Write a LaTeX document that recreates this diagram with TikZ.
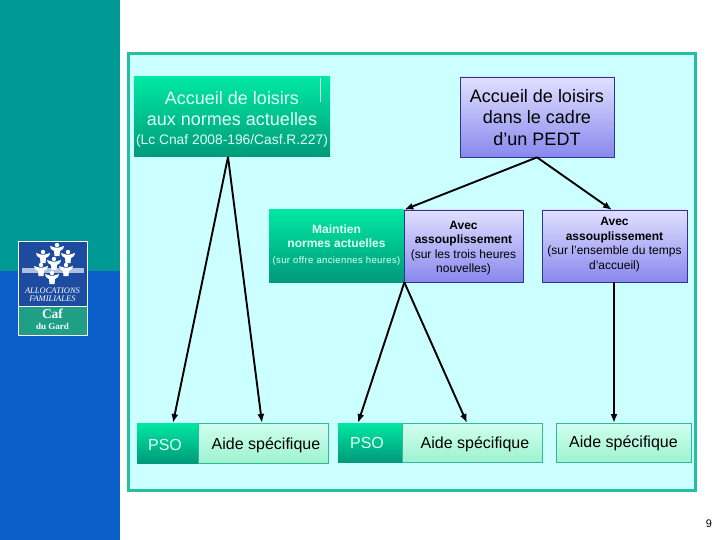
\documentclass[tikz,border=0pt]{standalone}
\usepackage{fontspec}
\setmainfont{Liberation Sans}
\newfontfamily\spaced[LetterSpace=4]{Liberation Sans}
\newfontfamily\serifit{Liberation Serif}
\usetikzlibrary{arrows.meta}
\definecolor{sideteal}{HTML}{009A96}
\definecolor{sideblue}{HTML}{0A5FC8}
\definecolor{framegreen}{HTML}{22BFA0}
\definecolor{framefill}{HTML}{CCFFFF}
\definecolor{logoblue}{HTML}{1C4BA0}
\definecolor{logogreen}{HTML}{1F9F86}
\definecolor{palegreen}{RGB}{225,255,245}
\tikzset{
	box/.style = {rectangle, inner sep = 0pt, align = center, line width = 0.7pt},
	greenbox/.style = {box, draw = none, top color = {rgb,255:red,0;green,232;blue,162}, bottom color = {rgb,255:red,0;green,154;blue,122}},
	bluebox/.style = {box, draw = {rgb,255:red,50;green,50;blue,150}, top color = {rgb,255:red,224;green,224;blue,255}, bottom color = {rgb,255:red,136;green,136;blue,238}},
	aidebox/.style = {box, draw = {rgb,255:red,50;green,185;blue,155}, top color = {rgb,255:red,208;green,255;blue,240}, bottom color = {rgb,255:red,158;green,242;blue,208}},
	link/.style = {-{Latex[length = 9pt, width = 7pt]}, line width = 1.9pt, black},
	words/.style = {align = center, inner sep = 0pt},
	big/.style = {words, font = \fontsize{18}{21.5}\selectfont},
	mid/.style = {words, font = \fontsize{12}{14.5}\selectfont},
	aide/.style = {words, font = \fontsize{16}{18}\selectfont},
}
\begin{document}
\begin{tikzpicture}[x = 1pt, y = -1pt]
	\useasboundingbox (0,0) rectangle (720,540);
	\fill [white] (0,0) rectangle (720,540);

	% bande laterale
	\fill [sideteal] (0,0) rectangle (120,271);
	\fill [sideblue] (0,271) rectangle (120,540);

	% logo
	\fill [logoblue] (18,241) rectangle (87.5,306);
	\fill [logogreen] (18,306) rectangle (87.5,335.5);
	\fill [white!65!logoblue] (22,268) rectangle (84,273);
	\foreach \px/\py in {57/250, 43/257, 68/257, 54/264, 41/270, 66/270, 52/278} {
		\fill [white] (\px,\py-5) circle [radius = 2.2];
		\fill [white] (\px-7,\py-4) -- (\px-2,\py-2.5) -- (\px+2,\py-2.5) -- (\px+7,\py-4) -- (\px+6,\py-1) -- (\px+3,\py+1) -- (\px+2.5,\py+6) -- (\px-2.5,\py+6) -- (\px-3,\py+1) -- (\px-6,\py-1) -- cycle;
	}
	\draw [white, line width = 0.6pt] (18,241) rectangle (87.5,335.5);
	\draw [white, line width = 0.6pt] (18,306) -- (87.5,306);
	\node (logotext) [white, words, font = \fontsize{8.5}{8}\selectfont\serifit\itshape] at (52.5,295) {ALLOCATIONS\\FAMILIALES};
	\node (logocaf) [white, words, font = \fontsize{13.5}{13.5}\selectfont\serifit\bfseries] at (52.5,314) {Caf};
	\node (logogard) [white, words, font = \fontsize{9}{9}\selectfont\serifit\bfseries] at (52.5,326) {du Gard};

	% cadre
	\draw [framegreen, fill = framefill, line width = 3pt] (128,54) rectangle (695,490);

	% boites
	\node (normes) [greenbox, minimum width = 196pt, minimum height = 80pt] at (232,117) {};
	\draw [white!85!framegreen, line width = 0.8pt] (320.5,78) -- (320.5,102);
	\node (pedt) [bluebox, minimum width = 154pt, minimum height = 80pt] at (537,117) {};
	\node (maintien) [greenbox, minimum width = 135pt, minimum height = 72pt] at (336.5,246) {};
	\node (avectrois) [bluebox, minimum width = 119pt, minimum height = 72pt] at (463.5,246) {};
	\node (avectemps) [bluebox, minimum width = 145pt, minimum height = 72pt] at (614.5,246) {};
	\node (psoa) [greenbox, minimum width = 61pt, minimum height = 40pt] at (167.5,443) {};
	\node (aidea) [aidebox, minimum width = 130pt, minimum height = 40pt] at (263,443) {};
	\node (psob) [greenbox, minimum width = 64pt, minimum height = 39pt] at (370,442.5) {};
	\node (aideb) [aidebox, minimum width = 140pt, minimum height = 39pt] at (472,442.5) {};
	\node (aidec) [aidebox, minimum width = 135pt, minimum height = 39pt] at (623.5,442.5) {};

	% textes
	\node (normestexte) [big, text = palegreen] at (232,119) {Accueil de loisirs\\aux normes actuelles\\[-3pt]\fontsize{13.8}{16}\selectfont (Lc Cnaf 2008-196/Casf.R.227)};
	\node (pedttexte) [big] at (537,117.5) {Accueil de loisirs\\dans le cadre\\d'un PEDT};
	\node (maintientexte) [mid, text = palegreen] at (336.5,245) {\bfseries Maintien\\\bfseries normes actuelles\\[1pt]\fontsize{9.5}{12}\selectfont\spaced (sur offre anciennes heures)};
	\node (avectroistexte) [mid] at (463.5,248) {\bfseries Avec\\\bfseries assouplissement\\(sur les trois heures\\nouvelles)};
	\node (avectempstexte) [mid] at (614.5,244.5) {\bfseries Avec\\\bfseries assouplissement\\(sur l'ensemble du temps\\d'accueil)};
	\node (psoatexte) [aide, text = palegreen] at (165,445) {PSO};
	\node (aideatexte) [aide] at (266,445) {Aide spécifique};
	\node (psobtexte) [aide, text = palegreen] at (367,443) {PSO};
	\node (aidebtexte) [aide] at (475,444) {Aide spécifique};
	\node (aidectexte) [aide] at (623.5,443) {Aide spécifique};

	% fleches
	\coordinate (normesbas) at (228,157);
	\coordinate (pedtbas) at (pedt.south);
	\coordinate (milieubas) at (maintien.south east);
	\coordinate (tempsbas) at (614,282);
	\coordinate (psoahaut) at (173,423);
	\coordinate (aideahaut) at (262,423);
	\coordinate (psobhaut) at (358,423);
	\coordinate (aidebhaut) at (467,423);
	\coordinate (aidechaut) at (614,423);
	\coordinate (troishaut) at (maintien.north east);
	\coordinate (tempshaut) at (612,210);

	\draw [link] (normesbas) -- (psoahaut);
	\draw [link] (normesbas) -- (aideahaut);
	\draw [link] (pedtbas) -- (troishaut);
	\draw [link] (pedtbas) -- (tempshaut);
	\draw [link] (milieubas) -- (psobhaut);
	\draw [link] (milieubas) -- (aidebhaut);
	\draw [link] (tempsbas) -- (aidechaut);

	\node (numero) [font = \fontsize{11}{13}\selectfont] at (709,524) {9};
\end{tikzpicture}
\end{document}
